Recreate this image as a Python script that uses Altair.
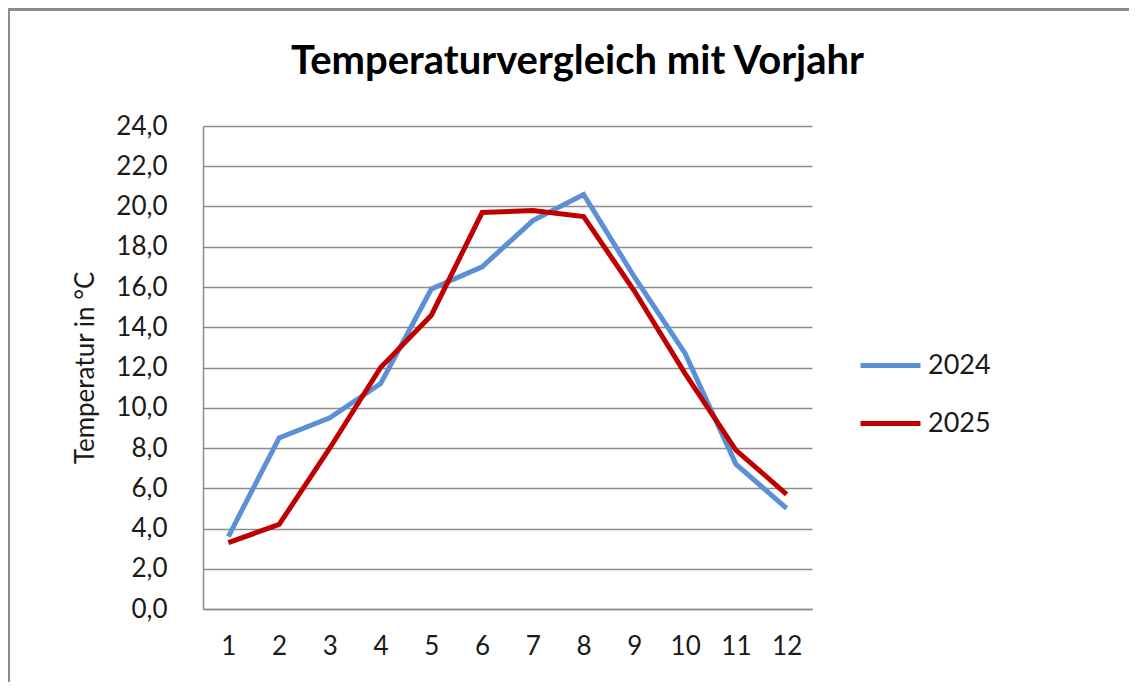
import altair as alt
import pandas as pd

months = [str(m) for m in range(1, 13)]
t2024 = [3.6, 8.5, 9.5, 11.2, 15.9, 17.0, 19.3, 20.6, 16.5, 12.7, 7.2, 5.0]
t2025 = [3.3, 4.2, 8.0, 12.0, 14.6, 19.7, 19.8, 19.5, 15.8, 11.7, 7.9, 5.7]
series = ["2024", "2025"]
colors = ["#5B8FD6", "#C00000"]
y_ticks = [0, 2, 4, 6, 8, 10, 12, 14, 16, 18, 20, 22, 24]

rows = []
for m, a, b in zip(months, t2024, t2025):
    rows.append({"Monat": m, "Jahr": "2024", "Temp": a})
    rows.append({"Monat": m, "Jahr": "2025", "Temp": b})
df = pd.DataFrame(rows)

FONT = "Lato"
W, H = 609, 483
PL, PT = 195, 118
PR, PB = 317, 73
TXT = "#1a1a1a"

lines = alt.Chart(df).mark_line(strokeWidth=5, strokeJoin="miter").encode(
    x=alt.X("Monat:O", sort=months, title=None,
            axis=alt.Axis(labelAngle=0, ticks=False, labelPadding=24,
                          labelFontSize=26, labelColor=TXT,
                          domainColor="#8c8c8c", domainWidth=1.5, grid=False)),
    y=alt.Y("Temp:Q", scale=alt.Scale(domain=[0, 24], nice=False),
            axis=alt.Axis(values=y_ticks, ticks=False, labelPadding=36,
                          labelFontSize=26, labelColor=TXT,
                          labelExpr="replace(format(datum.value, '.1f'), '.', ',')",
                          domainColor="#8c8c8c", domainWidth=1.5,
                          gridColor="#8c8c8c", gridWidth=1.5,
                          title="Temperatur in °C", titleFontSize=26,
                          titleFontWeight="normal", titleColor=TXT,
                          titleX=-118, titleY=H / 2, titleAngle=-90,
                          titleBaseline="middle", titleAlign="center")),
    color=alt.Color("Jahr:N", scale=alt.Scale(domain=series, range=colors),
                    legend=alt.Legend(title=None, orient="none",
                                      legendX=655, legendY=207,
                                      symbolType="stroke", symbolSize=3600,
                                      symbolStrokeWidth=5, rowPadding=12,
                                      labelFontSize=27, labelColor=TXT,
                                      labelOffset=5)),
)

frame_left = alt.Chart(df).mark_rule(color="#8c8c8c", strokeWidth=2.5).encode(
    x=alt.value(-PL + 0.5), y=alt.value(-PT + 1.5), y2=alt.value(H + PB + 10)
)
frame_top = alt.Chart(df).mark_rule(color="#8c8c8c", strokeWidth=2.5).encode(
    x=alt.value(-PL + 0.5), x2=alt.value(W + PR + 10), y=alt.value(-PT + 1.5)
)

chart = alt.layer(frame_left, frame_top, lines).properties(
    width=W, height=H,
    autosize=alt.AutoSizeParams(type="none"),
    padding={"left": PL, "top": PT, "right": PR, "bottom": PB},
    title=alt.TitleParams("Temperaturvergleich mit Vorjahr", fontSize=40,
                          font=FONT, fontWeight="bold", color="#000000",
                          anchor="middle", dx=70, offset=-106,
                          baseline="alphabetic"),
).configure(font=FONT).configure_view(stroke=None).configure_axis(
    labelFont=FONT, titleFont=FONT
).configure_legend(labelFont=FONT)

chart.save("out.html", embed_options={"renderer": "svg", "actions": False})
